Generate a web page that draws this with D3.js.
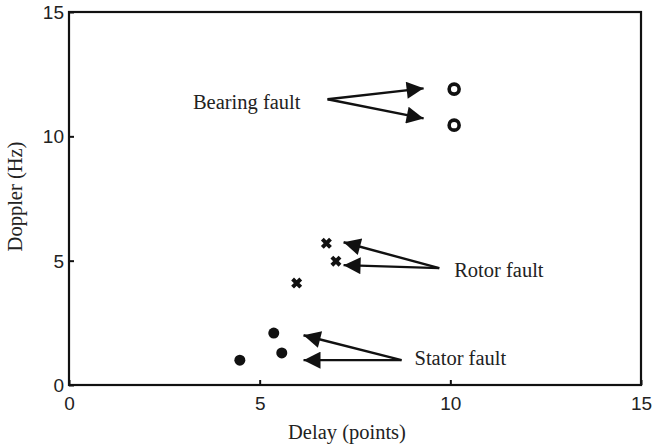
<!DOCTYPE html>
<html>
<head>
<style>
body { margin: 0; background: #fff; }
.tick text { font: 19px "Liberation Sans", Arial, sans-serif; fill: #222; }
.label { font: 20.5px "Liberation Serif", "Times New Roman", serif; fill: #222; }
</style>
<script src="https://cdn.jsdelivr.net/npm/d3@7"></script>
</head>
<body>
<svg width="652" height="445"></svg>
<script>
// readings from the figure (delay in points, doppler in Hz)
var bearingX = [10.1, 10.1];
var bearingY = [11.9, 10.45];
var rotorX = [6.75, 7.0, 5.97];
var rotorY = [5.7, 4.98, 4.1];
var statorX = [4.48, 5.37, 5.58];
var statorY = [1.0, 2.09, 1.29];
var ticks = [0, 5, 10, 15];

// annotations: label, its anchor, arrow tail and arrow tips
var notes = [
  {text: "Bearing fault", at: [3.25, 11.1], tail: [6.78, 11.49], tips: [[9.3, 11.93], [9.3, 10.72]]},
  {text: "Rotor fault", at: [10.1, 4.33], tail: [9.71, 4.7], tips: [[7.2, 5.74], [7.2, 4.82]]},
  {text: "Stator fault", at: [9.06, 0.8], tail: [8.72, 1.0], tips: [[6.15, 2.0], [6.15, 1.0]]}
];

var svg = d3.select("svg"),
  margin = {left: 69, top: 12, right: 11, bottom: 60},
  width = 652 - margin.left - margin.right,
  height = 445 - margin.top - margin.bottom;

var x = d3.scaleLinear().domain([0, 15]).range([0, width]);
var y = d3.scaleLinear().domain([0, 15]).range([height, 0]);

svg.append("defs").append("marker")
  .attr("id", "head")
  .attr("viewBox", "0 0 10 10")
  .attr("refX", 10).attr("refY", 5)
  .attr("markerWidth", 26).attr("markerHeight", 17)
  .attr("markerUnits", "userSpaceOnUse")
  .attr("orient", "auto")
  .append("path").attr("d", "M0,0L10,5L0,10Z").attr("fill", "#111");

var g = svg.append("g").attr("transform", "translate(" + margin.left + "," + margin.top + ")");

var xAxis = g.append("g").attr("transform", "translate(0," + height + ")")
  .call(d3.axisBottom(x).tickValues(ticks).tickSize(-5).tickPadding(8).tickFormat(d3.format("d")));
var yAxis = g.append("g")
  .call(d3.axisLeft(y).tickValues(ticks).tickSize(-5).tickPadding(5).tickFormat(d3.format("d")));
xAxis.select(".domain").remove();
yAxis.select(".domain").remove();
xAxis.selectAll("line").attr("stroke", "#111").attr("stroke-width", 2);
yAxis.selectAll("line").attr("stroke", "#111").attr("stroke-width", 2);
xAxis.selectAll(".tick text").attr("dy", "0.9em");
yAxis.selectAll(".tick text").attr("dy", "0.35em");

g.append("rect").attr("width", width).attr("height", height)
  .attr("fill", "none").attr("stroke", "#111").attr("stroke-width", 2.2);

// bearing: rings
g.selectAll(".bearing").data(bearingX).enter().append("circle")
  .attr("cx", function(d) { return x(d); })
  .attr("cy", function(d, i) { return y(bearingY[i]); })
  .attr("r", 5).attr("fill", "#fff").attr("stroke", "#111").attr("stroke-width", 3.6);

// rotor: x marks
var cross = d3.symbol().type(d3.symbolX).size(45);
g.selectAll(".rotor").data(rotorX).enter().append("path")
  .attr("d", cross)
  .attr("transform", function(d, i) { return "translate(" + x(d) + "," + y(rotorY[i]) + ")"; })
  .attr("fill", "none").attr("stroke", "#111").attr("stroke-width", 4);

// stator: dots
g.selectAll(".stator").data(statorX).enter().append("circle")
  .attr("cx", function(d) { return x(d); })
  .attr("cy", function(d, i) { return y(statorY[i]); })
  .attr("r", 5.5).attr("fill", "#111");

notes.forEach(function(n) {
  n.tips.forEach(function(t) {
    g.append("line")
      .attr("x1", x(n.tail[0])).attr("y1", y(n.tail[1]))
      .attr("x2", x(t[0])).attr("y2", y(t[1]))
      .attr("stroke", "#111").attr("stroke-width", 2.4)
      .attr("marker-end", "url(#head)");
  });
  g.append("text").attr("class", "label")
    .attr("x", x(n.at[0])).attr("y", y(n.at[1]))
    .text(n.text);
});

svg.append("text").attr("class", "label")
  .attr("x", margin.left + width / 2 - 8).attr("y", 439)
  .attr("text-anchor", "middle").text("Delay (points)");
svg.append("text").attr("class", "label")
  .attr("transform", "translate(22," + (margin.top + height / 2 - 2) + ") rotate(-90)")
  .attr("text-anchor", "middle").text("Doppler (Hz)");
</script>
</body>
</html>
